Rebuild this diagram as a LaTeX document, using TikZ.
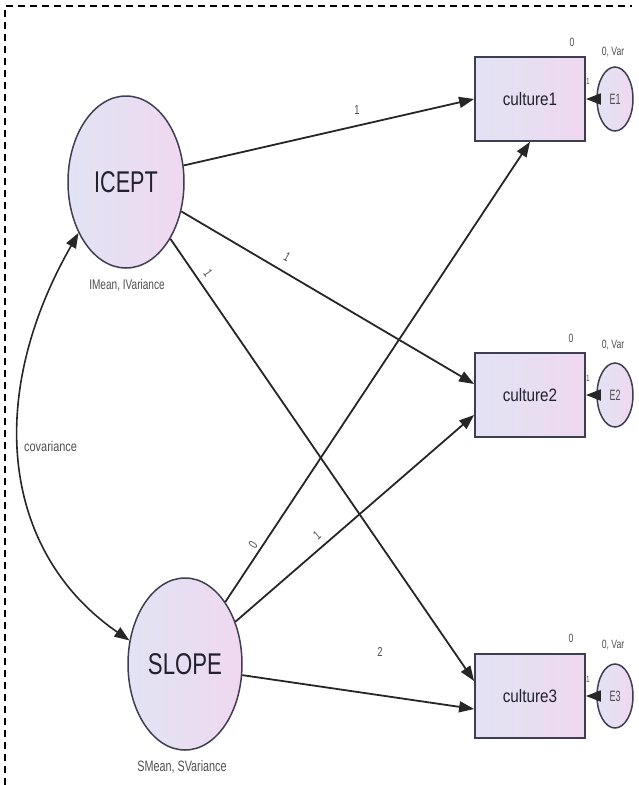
\documentclass[tikz,border=0pt]{standalone}
\usepackage{fontspec}
\setmainfont{Liberation Sans}
\usepackage{graphicx}
\usetikzlibrary{shapes.geometric,arrows.meta}
\definecolor{edge}{HTML}{262626}
\definecolor{lineC}{HTML}{3E3E52}
\definecolor{fillL}{HTML}{E2E3F4}
\definecolor{fillR}{HTML}{EFD8F0}
\definecolor{txt}{HTML}{22222E}
\definecolor{small}{HTML}{4E4E4E}
% horizontally narrowed text
\newcommand{\nrw}[2][0.72]{\scalebox{#1}[1]{#2}}

\begin{document}
\begin{tikzpicture}[x=1pt,y=-1pt,
  latent/.style={ellipse, draw=lineC, line width=1.5pt, left color=fillL, right color=fillR,
    inner sep=0pt, minimum width=116pt, minimum height=172pt, text=txt,
    font=\fontsize{30}{30}\selectfont},
  observed/.style={rectangle, draw=lineC, line width=1.8pt, left color=fillL, right color=fillR,
    minimum width=110pt, minimum height=84pt, inner sep=0pt, text=txt,
    font=\fontsize{18}{18}\selectfont},
  errv/.style={ellipse, draw=lineC, line width=1.5pt, left color=fillL, right color=fillR,
    minimum width=36pt, minimum height=64pt, inner sep=0pt, text=small,
    font=\fontsize{15}{15}\selectfont},
  regarrow/.style={draw=edge, line width=1.8pt, -{Triangle[length=15pt,width=11pt]}},
  covarrow/.style={draw=edge, line width=1.6pt,
    {Triangle[length=15pt,width=11pt]}-{Triangle[length=15pt,width=11pt]}},
  coef/.style={text=small, inner sep=0pt, font=\fontsize{13}{13}\selectfont},
  note/.style={text=small, inner sep=0pt, font=\fontsize{12}{12}\selectfont},
  tiny/.style={text=small, inner sep=0pt, font=\fontsize{9}{9}\selectfont},
  frame/.style={draw=black, line width=1.5pt, dash pattern=on 7pt off 5pt}
]
\useasboundingbox (0,0) rectangle (638,785);

% outer dashed frame (top and left edges)
\draw[frame] (5,785) -- (5,6) -- (632,6);

% latent growth factors
\node[latent] (icept) at (126,182) {\nrw{ICEPT}};
\node[latent, minimum width=114pt] (slope) at (185,664) {\nrw[0.74]{SLOPE}};

% observed indicators
\node[observed] (c1) at (530,99)  {\nrw[0.85]{culture1}};
\node[observed] (c2) at (530,395) {\nrw[0.85]{culture2}};
\node[observed] (c3) at (530,696) {\nrw[0.85]{culture3}};

% error terms
\node[errv] (e1) at (615,99)  {\nrw[0.6]{E1}};
\node[errv] (e2) at (615,395) {\nrw[0.6]{E2}};
\node[errv] (e3) at (615,696) {\nrw[0.6]{E3}};

% factor loadings
\draw[regarrow] (icept.16)  -- (c1.west);
\draw[regarrow] (icept.-28) -- ([yshift=11pt]c2.west);
\draw[regarrow] (icept.-52) -- ([yshift=15pt]c3.west);
\draw[regarrow] (slope.57)  -- (c1.south);
\draw[regarrow] (slope.40)  -- ([yshift=-20pt]c2.west);
\draw[regarrow] (slope.-11) -- ([yshift=-13pt]c3.west);

% error paths
\draw[regarrow] (e1) -- (c1);
\draw[regarrow] (e2) -- (c2);
\draw[regarrow] (e3) -- (c3);

% factor covariance
\draw[covarrow] (icept.227) .. controls (-17,400) and (4,554) .. (slope.157);

% loading values
\node[coef] (l1) at (357,110) {\nrw{1}};
\node[coef, rotate=-30] (l2) at (287,257) {\nrw{1}};
\node[coef, rotate=-55] (l3) at (208,273) {\nrw{1}};
\node[coef, rotate=57] (l4) at (253,545) {\nrw{0}};
\node[coef, rotate=40] (l5) at (317,535) {\nrw{1}};
\node[coef] (l6) at (380,652) {\nrw{2}};

% factor parameters
\node[note, font=\fontsize{14}{14}\selectfont] (im) at (127,285) {\nrw{IMean, IVariance}};
\node[note, font=\fontsize{15}{15}\selectfont] (sm) at (182,767) {\nrw{SMean, SVariance}};
\node[note, font=\fontsize{14}{14}\selectfont, anchor=west] (cv) at (24,446) {\nrw[0.78]{covariance}};

% intercepts and error parameters
\node[note] (i1) at (572,42)  {\nrw{0}};
\node[note] (i2) at (571,338) {\nrw{0}};
\node[note] (i3) at (571,638) {\nrw{0}};
\node[note] (v1) at (613,52)  {\nrw{0, Var}};
\node[note] (v2) at (613,345) {\nrw{0, Var}};
\node[note] (v3) at (613,645) {\nrw{0, Var}};

% error path weights
\node[tiny] (w1) at (588,81)  {\nrw{1}};
\node[tiny] (w2) at (588,378) {\nrw{1}};
\node[tiny] (w3) at (588,679) {\nrw{1}};
\end{tikzpicture}
\end{document}
